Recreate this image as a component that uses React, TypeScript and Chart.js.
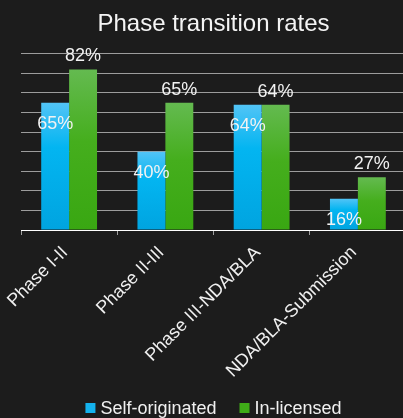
import React, { useEffect, useRef } from "react";
import { Chart, registerables } from "chart.js";

Chart.register(...registerables);

const categories = ["Phase I-II", "Phase II-III", "Phase III-NDA/BLA", "NDA/BLA-Submission"];
const selfOriginated = [65, 40, 64, 16];
const inLicensed = [82, 65, 64, 27];
const seriesNames = ["Self-originated", "In-licensed"];
const seriesColors = ["#14b2ee", "#3fac18"];
const titleText = "Phase transition rates";

const FONT = "Arial, 'Liberation Sans', sans-serif";

function gradientColor(stops: [number, string][], solid: string) {
  return (ctx: any) => {
    const chart = ctx.chart;
    if (ctx.type !== "data" || !chart.chartArea || !chart.scales.y) return solid;
    const y = chart.scales.y;
    const top = y.getPixelForValue(ctx.raw);
    const base = y.getPixelForValue(0);
    if (!isFinite(top) || !isFinite(base) || top === base) return solid;
    const g = chart.ctx.createLinearGradient(0, top, 0, base);
    stops.forEach(([o, c]) => g.addColorStop(o, c));
    return g;
  };
}

const labelPlugin = {
  id: "barLabels",
  afterDatasetsDraw(chart: any) {
    const ctx = chart.ctx;
    ctx.save();
    ctx.font = `18px ${FONT}`;
    ctx.fillStyle = "#f2f2f2";
    ctx.textAlign = "center";
    ctx.textBaseline = "alphabetic";
    chart.data.datasets.forEach((ds: any, i: number) => {
      const meta = chart.getDatasetMeta(i);
      meta.data.forEach((bar: any, j: number) => {
        const text = ds.data[j] + "%";
        if (i === 0) ctx.fillText(text, bar.x, bar.y + 26);
        else ctx.fillText(text, bar.x, bar.y - 8);
      });
    });
    ctx.restore();
  },
};

const legendPlugin = {
  id: "customLegend",
  afterDraw(chart: any) {
    const ctx = chart.ctx;
    const area = chart.chartArea;
    ctx.save();
    ctx.font = `18px ${FONT}`;
    const box = 10;
    const gap = 5;
    const itemGap = 23;
    const widths = seriesNames.map((n) => ctx.measureText(n).width);
    const total =
      widths.reduce((a, w) => a + box + gap + w, 0) + itemGap * (seriesNames.length - 1);
    let x = (area.left + area.right) / 2 - total / 2;
    const baseline = chart.height - 4;
    seriesNames.forEach((n, i) => {
      ctx.fillStyle = seriesColors[i];
      ctx.fillRect(x, baseline - 11, box, box);
      ctx.fillStyle = "#f0f0f0";
      ctx.textAlign = "left";
      ctx.textBaseline = "alphabetic";
      ctx.fillText(n, x + box + gap, baseline);
      x += box + gap + widths[i] + itemGap;
    });
    ctx.restore();
  },
};

export default function App() {
  const ref = useRef<HTMLCanvasElement>(null);
  useEffect(() => {
    document.body.style.margin = "0";
    document.body.style.overflow = "hidden";
    document.documentElement.style.overflow = "hidden";
    document.body.style.background = "#1c1c1c";
    const chart = new Chart(ref.current!, {
      type: "bar",
      data: {
        labels: categories,
        datasets: [
          {
            label: seriesNames[0],
            data: selfOriginated,
            backgroundColor: gradientColor(
              [[0, "#52c4f6"], [0.35, "#03b5f1"], [1, "#00a4e0"]],
              seriesColors[0]
            ),
            borderWidth: 0,
            categoryPercentage: 0.58,
            barPercentage: 1,
          },
          {
            label: seriesNames[1],
            data: inLicensed,
            backgroundColor: gradientColor(
              [[0, "#64ba50"], [0.45, "#45ae1d"], [1, "#39a712"]],
              seriesColors[1]
            ),
            borderWidth: 0,
            categoryPercentage: 0.58,
            barPercentage: 1,
          },
        ],
      },
      options: {
        animation: false,
        responsive: false,
        maintainAspectRatio: false,
        layout: { padding: { left: 21, right: 18, top: 0, bottom: 40 } },
        plugins: {
          title: {
            display: true,
            text: titleText,
            color: "#f4f4f4",
            font: { size: 24, family: FONT, weight: "normal" },
            padding: { top: 10, bottom: 15 },
          },
          legend: { display: false },
          tooltip: { enabled: false },
        },
        scales: {
          x: {
            afterFit: (scale: any) => {
              scale.height = 148;
            },
            grid: {
              display: true,
              drawOnChartArea: false,
              drawTicks: true,
              tickLength: 5,
              color: "#a0a0a0",
              offset: true,
            },
            border: { display: true, color: "#ffffff", width: 1 },
            ticks: {
              color: "#f0f0f0",
              font: { size: 18, family: FONT },
              maxRotation: 45,
              minRotation: 45,
              padding: 7,
              labelOffset: -4,
            },
          },
          y: {
            min: 0,
            max: 90,
            ticks: { display: false, stepSize: 10 },
            grid: { color: "#9c9c9c", drawTicks: false, lineWidth: 1 },
            border: { display: false },
          },
        },
      },
      plugins: [labelPlugin, legendPlugin],
    });
    return () => chart.destroy();
  }, []);
  return (
    <div style={{ width: 424, height: 418, background: "#1c1c1c" }}>
      <canvas ref={ref} width={424} height={418} style={{ display: "block" }} />
    </div>
  );
}
